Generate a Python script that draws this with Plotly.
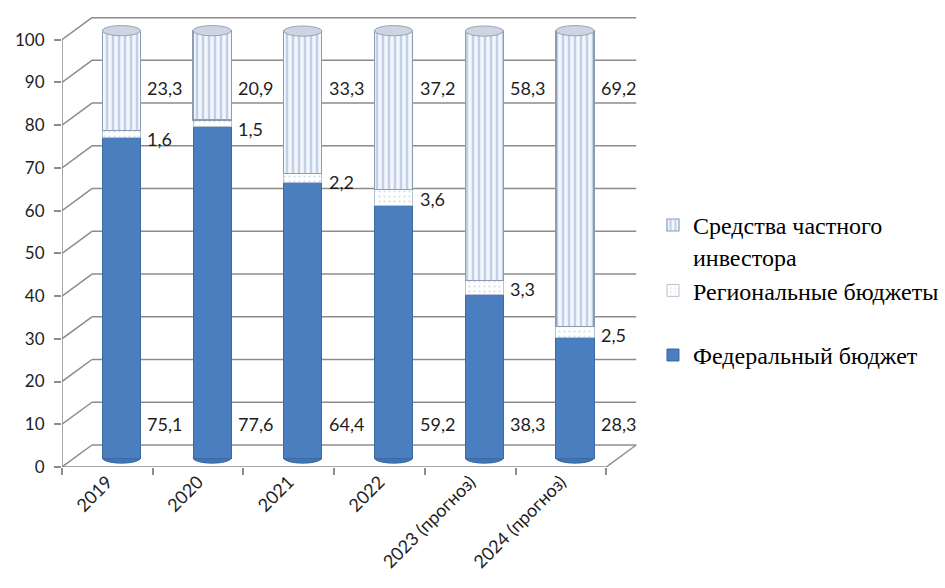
import plotly.graph_objects as go

categories = ["2019", "2020", "2021", "2022", "2023 (прогноз)", "2024 (прогноз)"]
federal = [75.1, 77.6, 64.4, 59.2, 38.3, 28.3]
regional = [1.6, 1.5, 2.2, 3.6, 3.3, 2.5]
private = [23.3, 20.9, 33.3, 37.2, 58.3, 69.2]
y_ticks = [0, 10, 20, 30, 40, 50, 60, 70, 80, 90, 100]

name_fed = "Федеральный бюджет"
name_reg = "Региональные бюджеты"
name_priv = "Средства частного<br>инвестора"

# layout constants (pseudo-3D look)
X_MIN, X_MAX = -0.5, 5.85
Y_MIN, Y_MAX = 0, 106
DX, DY = 0.33, 5.15         # back-wall depth offset (data units)
BX, BY = 0.155, 2.1         # bar shift to mid-depth
W = 0.42
GRID = "#8C8C8C"
TXT = "#1E1E1E"
n = len(categories)
idx = list(range(n))

fig = go.Figure()
fig.add_trace(go.Bar(x=idx, y=federal, name=name_fed, width=W,
                     marker=dict(color="#4A7EBE", line=dict(color="#3A69A3", width=1)),
                     xaxis="x2", yaxis="y2", legend="legend2"))
fig.add_trace(go.Bar(x=idx, y=regional, name=name_reg, width=W,
                     marker=dict(color="#FFFFFF", line=dict(color="#B7C3D3", width=1),
                                 pattern=dict(shape=".", fgcolor="#A9B8CC", bgcolor="#FFFFFF", size=5, solidity=0.15)),
                     xaxis="x2", yaxis="y2", legend="legend"))
fig.add_trace(go.Bar(x=idx, y=private, name=name_priv, width=W,
                     marker=dict(color="#EEF3FA", line=dict(color="#8E9CB2", width=1.2),
                                 pattern=dict(shape="|", fgcolor="#8FA9D0", bgcolor="#F3F7FC", size=6, solidity=0.42)),
                     xaxis="x2", yaxis="y2", legend="legend"))

shapes = []
line = dict(color=GRID, width=1.5)
# back wall gridlines
for v in y_ticks:
    shapes.append(dict(type="line", xref="x", yref="y", x0=X_MIN, y0=v, x1=X_MIN + DX, y1=v + DY, line=line, layer="below"))
    shapes.append(dict(type="line", xref="x", yref="y", x0=X_MIN + DX, y0=v + DY, x1=n - 0.5 + DX, y1=v + DY, line=line, layer="below"))
# floor
shapes.append(dict(type="line", xref="x", yref="y", x0=n - 0.5, y0=0, x1=n - 0.5 + DX, y1=DY, line=line, layer="below"))
shapes.append(dict(type="line", xref="x", yref="y", x0=X_MIN, y0=0, x1=n - 0.5, y1=0, line=line, layer="below"))
# y axis line
shapes.append(dict(type="line", xref="x", yref="y", x0=X_MIN, y0=0, x1=X_MIN, y1=y_ticks[-1], line=line, layer="below"))

# cylinder bottoms and tops
for i in idx:
    total = federal[i] + regional[i] + private[i]
    shapes.append(dict(type="circle", xref="x2", yref="y2", x0=i - W / 2, x1=i + W / 2, y0=-1.2, y1=1.2,
                       fillcolor="#3F74B5", line=dict(color="#3A69A3", width=1), layer="below"))
    shapes.append(dict(type="circle", xref="x2", yref="y2", x0=i - W / 2, x1=i + W / 2, y0=total - 1.2, y1=total + 1.2,
                       fillcolor="#CCD5E2", line=dict(color="#98A4B6", width=1), layer="above"))

annotations = []
lab_font = dict(family="Lato", size=18, color=TXT)
for i in idx:
    common = dict(xref="x2", yref="y", x=i, xanchor="left", xshift=24, showarrow=False, font=lab_font)
    annotations.append(dict(text=f"{federal[i]}".replace(".", ","), y=10, **common))
    annotations.append(dict(text=f"{regional[i]}".replace(".", ","), y=federal[i] + regional[i], **common))
    annotations.append(dict(text=f"{private[i]}".replace(".", ","), y=88.7, **common))

fig.update_layout(
    width=945, height=588,
    margin=dict(l=62, r=307, t=14, b=121, autoexpand=False),
    paper_bgcolor="white", plot_bgcolor="white",
    barmode="stack", bargap=0.5,
    showlegend=True,
    font=dict(family="Lato", size=17, color=TXT),
    xaxis=dict(range=[X_MIN, X_MAX], tickvals=idx, ticktext=categories, tickangle=-45,
               showgrid=False, showline=False, zeroline=False, ticks="",
               tickfont=dict(family="Lato", size=18, color=TXT),
               minor=dict(tickvals=[i - 0.5 for i in range(n + 1)], ticks="outside", ticklen=7,
                          tickcolor=GRID, tickwidth=1.5, showgrid=False)),
    yaxis=dict(range=[Y_MIN, Y_MAX], tickvals=y_ticks, ticks="outside", ticklen=7, tickcolor=GRID, tickwidth=1.5,
               showgrid=False, showline=False, zeroline=False, ticklabelstandoff=6,
               tickfont=dict(family="Lato", size=17, color=TXT)),
    xaxis2=dict(range=[X_MIN - BX, X_MAX - BX], overlaying="x", visible=False),
    yaxis2=dict(range=[Y_MIN - BY, Y_MAX - BY], overlaying="y", visible=False),
    legend=dict(x=1.026, y=0.583, xanchor="left", yanchor="top", traceorder="reversed", valign="top",
                font=dict(family="Liberation Serif", size=24, color="#000000"), bgcolor="rgba(0,0,0,0)",
                tracegroupgap=6),
    legend2=dict(x=1.026, y=0.296, xanchor="left", yanchor="top",
                 font=dict(family="Liberation Serif", size=24, color="#000000"), bgcolor="rgba(0,0,0,0)"),
    shapes=shapes,
    annotations=annotations,
)

fig.write_html("out.html")
